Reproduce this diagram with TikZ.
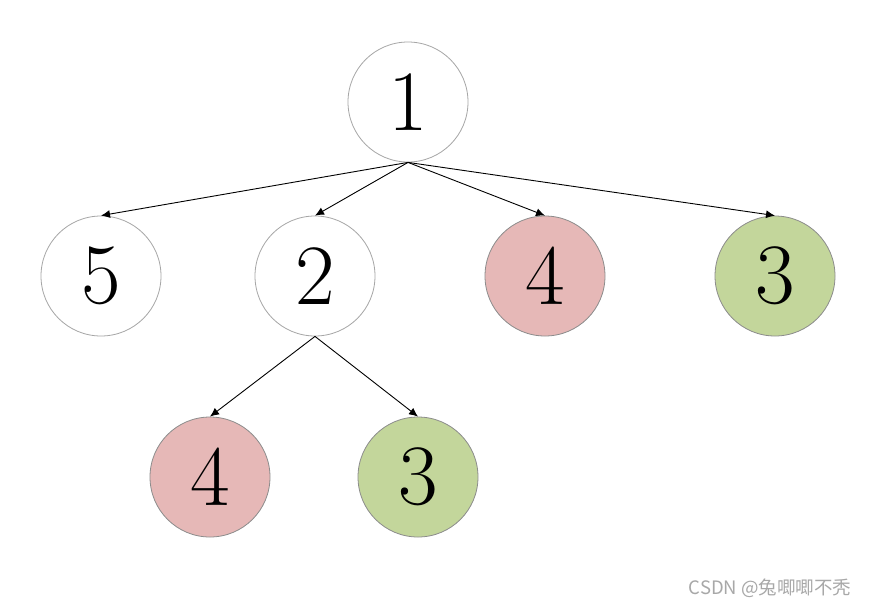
\documentclass[tikz,border=0pt]{standalone}
\usepackage{fontspec}
\newfontfamily\cjk{Noto Sans CJK SC}
\usetikzlibrary{arrows.meta}
\definecolor{pinkfill}{HTML}{E6B8B7}
\definecolor{greenfill}{HTML}{C3D69B}
\definecolor{lightborder}{HTML}{A6A6A6}
\definecolor{darkborder}{HTML}{8C8C8C}
\definecolor{wm}{HTML}{A8A8A8}
\begin{document}
\begin{tikzpicture}[x=1pt,y=-1pt,
  nd/.style={circle,draw=lightborder,line width=0.8pt,minimum size=120pt,inner sep=0pt,
    font=\fontsize{86}{86}\selectfont},
  pinknd/.style={nd,fill=pinkfill,draw=darkborder},
  greennd/.style={nd,fill=greenfill,draw=darkborder},
  edge/.style={-{Latex[length=9pt,width=8pt]},line width=0.9pt,black}]
\useasboundingbox (0,0) rectangle (869,606);
\fill[white] (0,0) rectangle (869,606);
\node[nd] (n1) at (408,102) {1};
\node[nd] (n5) at (101,276) {5};
\node[nd] (n2) at (315,276) {2};
\node[pinknd] (n4a) at (545,276) {4};
\node[greennd] (n3a) at (775,276) {3};
\node[pinknd] (n4b) at (210,477) {4};
\node[greennd] (n3b) at (418,477) {3};
\draw[edge] (n1.south) -- (n5.north);
\draw[edge] (n1.south) -- (n2.north);
\draw[edge] (n1.south) -- (n4a.north);
\draw[edge] (n1.south) -- (n3a.north);
\draw[edge] (n2.south) -- (n4b.north);
\draw[edge] (n2.south) -- (n3b.north);
\node[text=wm,font=\cjk\fontsize{18.5}{18.5}\selectfont,anchor=east] (wmk) at (855,588) {CSDN @兔唧唧不秃};
\end{tikzpicture}
\end{document}
